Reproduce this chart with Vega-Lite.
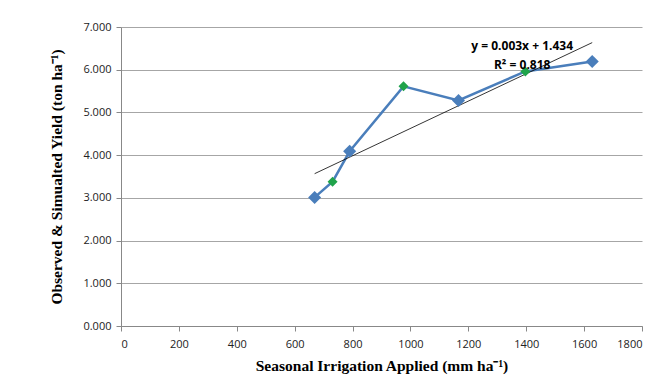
{
  "$schema": "https://vega.github.io/schema/vega-lite/v6.json",
  "width": 521,
  "height": 299,
  "autosize": {"type": "none"},
  "padding": {"left": 121, "top": 27, "right": 23, "bottom": 66},
  "background": "white",
  "config": {"view": {"stroke": null}},
  "datasets": {
    "pts": [
      {"irrigation": 669, "yield": 3.01, "type": "Observed"},
      {"irrigation": 731, "yield": 3.38, "type": "Simulated"},
      {"irrigation": 790, "yield": 4.09, "type": "Observed"},
      {"irrigation": 976, "yield": 5.61, "type": "Simulated"},
      {"irrigation": 1166, "yield": 5.28, "type": "Observed"},
      {"irrigation": 1397, "yield": 5.96, "type": "Simulated"},
      {"irrigation": 1628, "yield": 6.19, "type": "Observed"}
    ],
    "labels": [
      {"irrigation": 1386, "yield": 6.55, "label": "y = 0.003x + 1.434"},
      {"irrigation": 1386, "yield": 6.12, "label": "R² = 0.818"}
    ]
  },
  "encoding": {
    "x": {
      "field": "irrigation", "type": "quantitative",
      "scale": {"domain": [0, 1800], "nice": false},
      "axis": {
        "values": [0, 200, 400, 600, 800, 1000, 1200, 1400, 1600, 1800], "format": "d",
        "grid": false, "domainColor": "#888888", "tickColor": "#888888", "tickSize": 5,
        "labelFont": "Open Sans", "labelFontSize": 11, "labelColor": "#222222", "labelPadding": 7,
        "title": "Seasonal Irrigation Applied (mm ha⁻¹)",
        "titleFont": "Liberation Serif", "titleFontSize": 15.5, "titleFontWeight": "bold", "titleColor": "#000000", "titlePadding": 9
      }
    },
    "y": {
      "field": "yield", "type": "quantitative",
      "scale": {"domain": [0, 7], "nice": false},
      "axis": {
        "values": [0, 1, 2, 3, 4, 5, 6, 7], "format": ".3f",
        "grid": true, "gridColor": "#A6A6A6", "gridWidth": 1,
        "domainColor": "#888888", "tickColor": "#888888", "tickSize": 5,
        "labelFont": "Open Sans", "labelFontSize": 11, "labelColor": "#222222", "labelPadding": 5,
        "title": "Observed & Simualted Yield (ton ha⁻¹)",
        "titleFont": "Liberation Serif", "titleFontSize": 15.5, "titleFontWeight": "bold", "titleColor": "#000000", "titlePadding": 18
      }
    }
  },
  "layer": [
    {
      "data": {"name": "pts"},
      "mark": {"type": "line", "color": "#4A7EBB", "strokeWidth": 2.5},
      "encoding": {"order": {"field": "irrigation"}}
    },
    {
      "data": {"name": "pts"},
      "transform": [{"regression": "yield", "on": "irrigation"}],
      "mark": {"type": "line", "color": "#000000", "strokeWidth": 0.8},
      "encoding": {}
    },
    {
      "data": {"name": "pts"},
      "transform": [{"filter": "datum.type === 'Observed'"}],
      "mark": {"type": "point", "shape": "diamond", "filled": true, "opacity": 1, "size": 170, "color": "#4A7EBB"},
      "encoding": {}
    },
    {
      "data": {"name": "pts"},
      "transform": [{"filter": "datum.type === 'Simulated'"}],
      "mark": {"type": "point", "shape": "diamond", "filled": true, "opacity": 1, "size": 100, "color": "#1FA34A"},
      "encoding": {}
    },
    {
      "data": {"name": "labels"},
      "mark": {"type": "text", "font": "Open Sans", "fontSize": 12, "fontWeight": "bold", "color": "#000000", "align": "center", "baseline": "middle"},
      "encoding": {"text": {"field": "label"}}
    }
  ]
}
